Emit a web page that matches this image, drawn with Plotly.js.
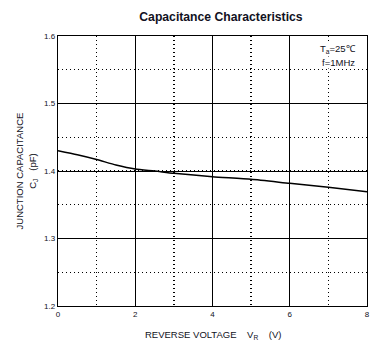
<!DOCTYPE html>
<html><head><meta charset="utf-8">
<script src="https://cdn.plot.ly/plotly-3.0.1.min.js"></script>
<style>html,body{margin:0;padding:0;background:#fff}#c{width:389px;height:352px}</style>
</head><body><div id="c"></div>
<script>
const voltage = [0, 0.5, 1, 1.5, 2, 2.5, 3, 4, 5, 6, 7, 8];
const capacitance = [1.430, 1.424, 1.417, 1.409, 1.403, 1.400, 1.3966, 1.3916, 1.3877, 1.3817, 1.3758, 1.3693];
const xTicks = [0, 2, 4, 6, 8];
const yTicks = [1.2, 1.3, 1.4, 1.5, 1.6];
const txt = '#111122';
const F = 'Liberation Sans, Arial, sans-serif';

const trace = {x: voltage, y: capacitance, mode: 'lines', line: {color: '#000', width: 1.5, shape: 'spline', smoothing: 0.6}, hoverinfo: 'skip'};

const axBase = {
  showline: true, mirror: true, linecolor: '#000', linewidth: 1.2,
  showgrid: true, gridcolor: '#000', gridwidth: 1, zeroline: false,
  ticks: '', tickfont: {family: F, size: 8, color: txt}, fixedrange: true
};
const minorGrid = {showgrid: true, gridcolor: '#000', gridwidth: 1.3, griddash: '1.3px,2.7px'};

const layout = {
  width: 389, height: 352,
  margin: {l: 57.5, r: 22, t: 36, b: 46},
  paper_bgcolor: '#fff', plot_bgcolor: '#fff',
  showlegend: false,
  title: {text: '<b>Capacitance Characteristics</b>', font: {family: F, size: 12.2, color: txt},
          xref: 'container', x: 0.568, xanchor: 'center', yref: 'container', y: 0.952, yanchor: 'middle'},
  xaxis: Object.assign({}, axBase, {range: [0, 8], tickvals: xTicks, ticktext: xTicks.map(String),
    minor: Object.assign({dtick: 1}, minorGrid)}),
  yaxis: Object.assign({}, axBase, {range: [1.2, 1.6], tickvals: yTicks, ticktext: yTicks.map(v => v.toFixed(1)),
    minor: Object.assign({dtick: 0.05}, minorGrid)}),
  annotations: [
    {text: 'JUNCTION CAPACITANCE<br>C<sub>J</sub>\u00a0\u00a0\u00a0(pF)', textangle: -90, xref: 'paper', yref: 'paper',
     x: -0.102, y: 0.5, xanchor: 'center', yanchor: 'middle', showarrow: false, font: {family: F, size: 9.5, color: txt}},
    {text: 'REVERSE VOLTAGE\u00a0\u00a0\u00a0\u00a0V<sub>R</sub>\u00a0\u00a0\u00a0\u00a0(V)', xref: 'paper', yref: 'paper',
     x: 0.5, y: -0.107, xanchor: 'center', yanchor: 'middle', showarrow: false, font: {family: F, size: 9.5, color: txt}},
    {text: 'T<sub>a</sub>=25\u2103', xref: 'paper', yref: 'paper', x: (338 - 57.5) / 309.5, y: (306 - 49) / 270,
     xanchor: 'center', yanchor: 'middle', showarrow: false, bgcolor: '#fff', borderpad: 0, font: {family: F, size: 9.5, color: txt}},
    {text: 'f=1MHz', xref: 'paper', yref: 'paper', x: (338.5 - 57.5) / 309.5, y: (306 - 63) / 270,
     xanchor: 'center', yanchor: 'middle', showarrow: false, bgcolor: '#fff', borderpad: 0, font: {family: F, size: 9.5, color: txt}}
  ]
};

Plotly.newPlot('c', [trace], layout, {staticPlot: true, displayModeBar: false});
</script></body></html>
